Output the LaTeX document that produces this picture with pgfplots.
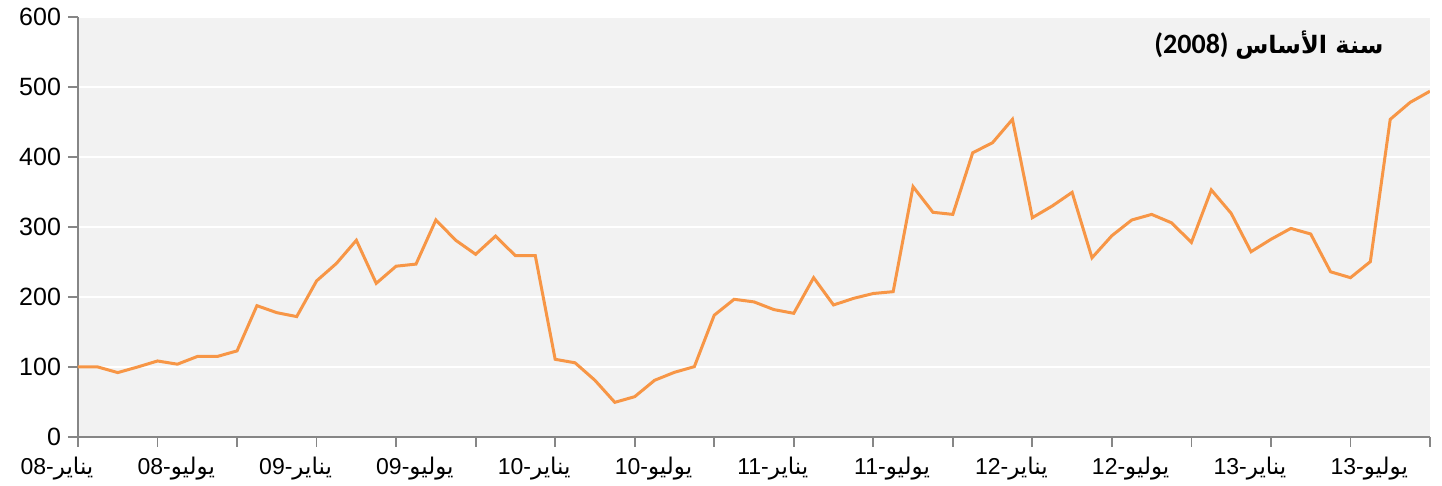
\documentclass[border=0pt]{standalone}
\usepackage{pgfplots}
\pgfplotsset{compat=1.18}
\usepackage{pgfplotstable}
\usepackage{fontspec}
\setmainfont{Liberation Sans}
\newfontfamily\arabicfont[Script=Arabic]{DejaVu Sans}
\newfontfamily\carlito{Carlito}
\TeXXeTstate=1
\definecolor{bg}{HTML}{F2F2F2}
\definecolor{axisgray}{HTML}{868686}
\definecolor{linecol}{HTML}{F79646}
\newcommand\yan[1]{#1-{\arabicfont\beginR يناير\endR}}
\newcommand\yul[1]{#1-{\arabicfont\beginR يوليو\endR}}
\pgfplotstableread{
m v
0 100
1 100
2 92
3 100
4 108.6
5 104
6 115
7 115
8 123
9 187.6
10 177.6
11 172
12 223
13 248
14 281
15 219.5
16 244
17 247
18 310
19 281
20 261
21 287
22 259
23 259
24 111
25 106
26 81
27 49.5
28 57.6
29 81
30 92.4
31 100.5
32 174
33 196.7
34 193
35 182
36 176.7
37 227.6
38 188.6
39 198
40 205
41 207.6
42 357.6
43 321
44 318
45 406
46 420.5
47 453.8
48 313.3
49 330
50 349.5
51 256
52 287.6
53 310
54 318
55 306
56 278
57 353
58 319.5
59 264.7
60 282.4
61 298
62 290
63 236
64 227.6
65 250.5
66 453.8
67 478
68 494
}\datatable
\begin{document}
\begin{tikzpicture}
\begin{axis}[
  width=676pt, height=210pt, scale only axis,
  xmin=0, xmax=68, ymin=0, ymax=600,
  /pgf/number format/assume math mode=true,
  axis x line*=bottom, axis y line*=left,
  axis line style={draw=axisgray, line width=0.9pt, -},
  tick align=outside, major tick length=5pt,
  tick style={draw=axisgray, line width=0.9pt},
  xtick={0,4,...,68}, xticklabels={},
  ytick={0,100,...,600},
  ymajorgrids, grid style={white, line width=1.2pt},
  axis background/.style={fill=bg},
  yticklabel style={font=\fontsize{12.5}{14}\selectfont},
  extra x ticks={0,6,...,66},
  extra x tick labels={\yan{08},\yul{08},\yan{09},\yul{09},\yan{10},\yul{10},\yan{11},\yul{11},\yan{12},\yul{12},\yan{13},\yul{13}},
  extra x tick style={major tick length=0pt, xticklabel style={xshift=-10.5pt, yshift=-6.5pt, font=\fontsize{11.5}{13}\selectfont}},
]
\addplot[color=linecol, line width=1.5pt, no marks] table[x=m,y=v]{\datatable};
\node[font=\fontsize{12}{14}\selectfont] at (axis cs:59.9,560) {{\carlito\fontsize{14}{16}\selectfont\bfseries (2008)} {\arabicfont\bfseries\beginR سنة الأساس\endR}};
\end{axis}
\pgfresetboundingbox
\useasboundingbox (-39pt,-24.5pt) rectangle (682pt,218.5pt);
\end{tikzpicture}
\end{document}
